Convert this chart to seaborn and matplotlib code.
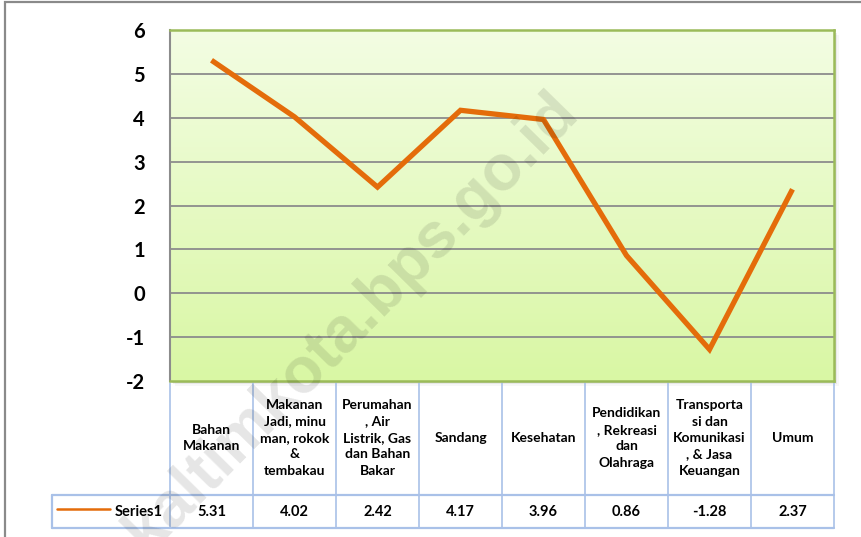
import numpy as np
import pandas as pd
import matplotlib
matplotlib.use("Agg")
import matplotlib.pyplot as plt
import matplotlib.transforms as mtransforms
from matplotlib.patches import Rectangle
from matplotlib.lines import Line2D
import seaborn as sns

categories = [
    "Bahan\nMakanan",
    "Makanan\nJadi, minu\nman, rokok\n&\ntembakau",
    "Perumahan\n, Air\nListrik, Gas\ndan Bahan\nBakar",
    "Sandang",
    "Kesehatan",
    "Pendidikan\n, Rekreasi\ndan\nOlahraga",
    "Transporta\nsi dan\nKomunikasi\n, & Jasa\nKeuangan",
    "Umum",
]
values = [5.31, 4.02, 2.42, 4.17, 3.96, 0.86, -1.28, 2.37]
value_labels = ["5.31", "4.02", "2.42", "4.17", "3.96", "0.86", "-1.28", "2.37"]
series_name = "Series1"
yticks = [-2, -1, 0, 1, 2, 3, 4, 5, 6]

sns.set_theme(style="white")
plt.rcParams["font.family"] = ["Lato", "DejaVu Sans"]

W, H = 861, 537
fig = plt.figure(figsize=(W / 100, H / 100), dpi=100)
fig.patch.set_facecolor("white")

L, R, T, B = 170, 834, 30, 381
ax = fig.add_axes([L / W, 1 - B / H, (R - L) / W, (B - T) / H])
ax.set_zorder(2)

# outer chart border
fig.patches.append(Rectangle((5 / W, -0.2), 1.2, 1 - 2 / H + 0.2, transform=fig.transFigure,
                             fill=False, edgecolor="#8a8a8a", lw=1.6, zorder=-2))

# shadow of plot area
for k, a in enumerate([0.10, 0.06, 0.03]):
    off = (k + 1) * 1.5
    fig.patches.append(Rectangle(((L + off) / W, 1 - (B + off) / H), (R - L) / W, (B - T) / H,
                                 transform=fig.transFigure, facecolor="#000000", alpha=a,
                                 edgecolor="none", zorder=-1))

df = pd.DataFrame({"x": np.arange(len(values)), "value": values, "series": series_name})

# gradient background
grad = np.linspace(0, 1, 256).reshape(-1, 1)
top = np.array([0xf3, 0xfd, 0xe3]) / 255
bot = np.array([0xd9, 0xf7, 0xa4]) / 255
img = top + (bot - top) * grad[..., None]
ax.imshow(img, extent=[-0.5, len(values) - 0.5, -2, 6], aspect="auto", zorder=0, origin="upper")

ax.set_xlim(-0.5, len(values) - 0.5)
ax.set_ylim(-2, 6)
ax.set_yticks(yticks)
ax.set_yticklabels([str(v) for v in yticks], fontsize=14.5, fontweight="bold", color="#000000")
ax.tick_params(axis="y", length=0, pad=18)
ax.set_xticks([])
for y in yticks[1:-1]:
    ax.axhline(y, color="#8c8c8c", lw=1.3, zorder=1)

sns.lineplot(data=df, x="x", y="value", ax=ax, color="#e46c0a", lw=3.8, legend=False,
             zorder=3, solid_joinstyle="miter", solid_capstyle="butt")
ax.set_xlabel("")
ax.set_ylabel("")

for s in ["top", "right", "bottom"]:
    ax.spines[s].set_color("#9bbb59")
    ax.spines[s].set_linewidth(1.8)
ax.spines["left"].set_color("#8c8c8c")
ax.spines["left"].set_linewidth(1.5)

# data table
tr = mtransforms.blended_transform_factory(ax.transData, ax.transAxes)
px = 1 / (B - T)
y_head_bot = -(495 - B) * px
y_row_bot = -(528 - B) * px
tcol = "#a9c1e8"
n = len(values)
for i in range(n + 1):
    ax.add_line(Line2D([i - 0.5, i - 0.5], [-2 * px, y_row_bot], transform=tr, color=tcol, lw=1.2, clip_on=False))
leg_left = -(L - 52) / (R - L)
ax.add_line(Line2D([leg_left, 1], [y_head_bot, y_head_bot], transform=ax.transAxes, color=tcol, lw=1.6, clip_on=False))
ax.add_line(Line2D([leg_left, 1], [y_row_bot, y_row_bot], transform=ax.transAxes, color=tcol, lw=1.6, clip_on=False))
ax.add_line(Line2D([leg_left, leg_left], [y_head_bot, y_row_bot], transform=ax.transAxes, color=tcol, lw=1.6, clip_on=False))

for i, (c, v) in enumerate(zip(categories, value_labels)):
    ax.text(i, y_head_bot / 2, c, transform=tr, ha="center", va="center", fontsize=10,
            fontweight="bold", linespacing=1.45, color="#000000", clip_on=False)
    ax.text(i, (y_head_bot + y_row_bot) / 2, v, transform=tr, ha="center", va="center",
            fontsize=10.5, fontweight="bold", color="#000000", clip_on=False)

ymid = (y_head_bot + y_row_bot) / 2
ax.add_line(Line2D([-(L - 57) / (R - L), -(L - 110) / (R - L)], [ymid + 0.008, ymid + 0.008],
                   transform=ax.transAxes, color="#e46c0a", lw=1.8, clip_on=False))
ax.text(-(L - 163) / (R - L), ymid, series_name, transform=ax.transAxes, ha="right", va="center",
        fontsize=10.5, fontweight="bold", color="#000000")

# watermark
fig.text(352 / W, 1 - 322 / H, "kaltimkota.bps.go.id", rotation=45.5, ha="center", va="center",
         fontsize=46, fontweight="bold", color="#000000", alpha=0.1, zorder=10,
         family=["Liberation Sans", "DejaVu Sans"])

fig.savefig("out.png", dpi=100)
